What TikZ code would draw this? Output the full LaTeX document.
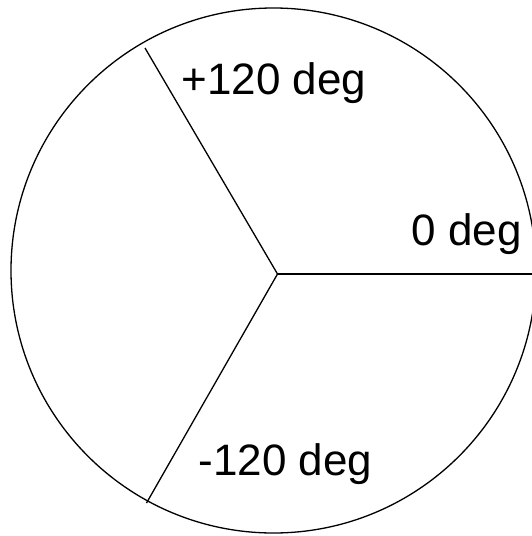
\documentclass[tikz,border=0pt]{standalone}
\usepackage{fontspec}
\setmainfont{Liberation Sans}
\usetikzlibrary{positioning}

\begin{document}
\begin{tikzpicture}[
  x=1pt, y=-1pt,
  line width=1.3pt,
  lbl/.style={font=\fontsize{44}{50}\selectfont, anchor=base west, inner sep=0pt},
]
\useasboundingbox (0,0) rectangle (532,536);
\clip (0,0) rectangle (532,536);
% rim and the three sector borders
\coordinate (mid)  at (273.5,270.5);
\coordinate (hub)  at (277.5,274);
\coordinate (up)   at (145,48);
\coordinate (down) at (146.5,503);
\coordinate (east) at (536,274);
\draw (mid) circle [radius=262.5];
\draw (hub) -- (up);
\draw (hub) -- (down);
\draw (hub) -- (east);
% phase labels
\node[lbl] (plus)  at (181,94)  {+120 deg};
\node[lbl] (zero)  at (411,245) {0 deg};
\node[lbl] (minus) at (198,475) {-120 deg};
\end{tikzpicture}
\end{document}
